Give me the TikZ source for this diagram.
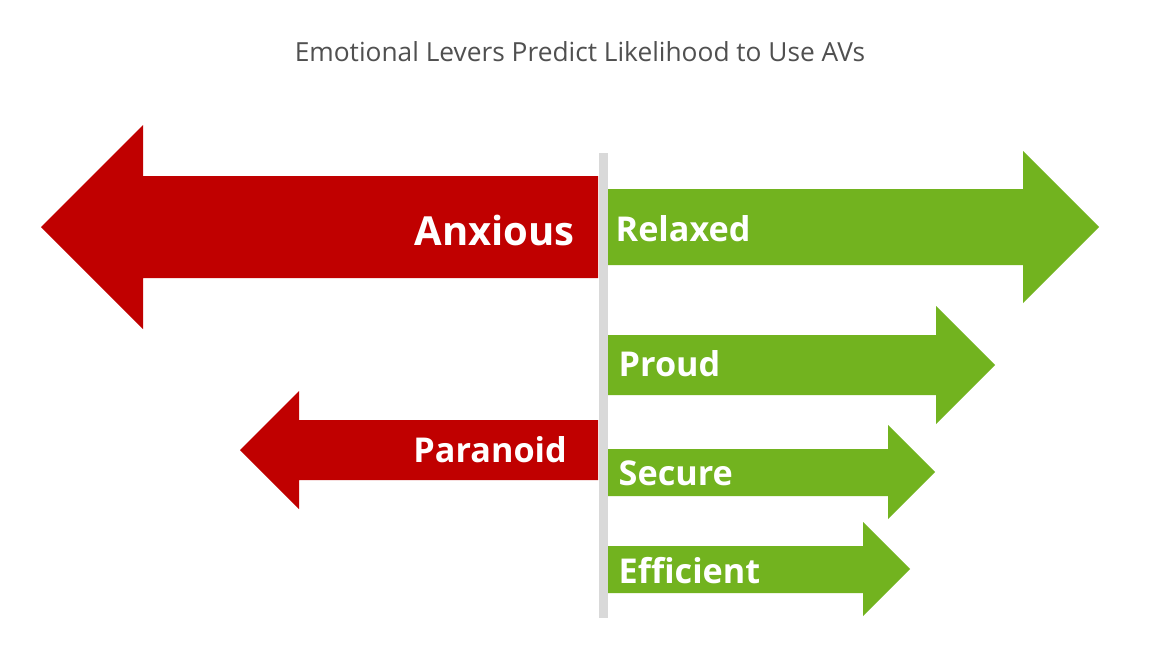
\documentclass[tikz,border=0pt]{standalone}
\usepackage{fontspec}
\setmainfont{Open Sans}
\definecolor{redarrow}{HTML}{C00000}
\definecolor{greenarrow}{HTML}{72B31F}
\definecolor{axisgray}{HTML}{D9D9D9}
\definecolor{titlegray}{HTML}{505050}
\tikzset{x=1pt,y=-1pt,
 lab/.style={text=white,font=\bfseries\fontsize{34.2}{40}\selectfont,inner sep=0pt,anchor=base west},
 labr/.style={text=white,font=\bfseries\fontsize{34.2}{40}\selectfont,inner sep=0pt,anchor=base east}}
\begin{document}
\begin{tikzpicture}
\useasboundingbox (0,0) rectangle (1149,661);
\fill[white] (0,0) rectangle (1149,661);
% left arrows
\fill[redarrow] (598,176) -- (143,176) -- (143,125) -- (41,227) -- (143,329) -- (143,278) -- (598,278) -- cycle;
\fill[redarrow] (598,420) -- (299,420) -- (299,391) -- (240,450) -- (299,509) -- (299,480) -- (598,480) -- cycle;
% right arrows
\fill[greenarrow] (608,189) -- (1023,189) -- (1023,151) -- (1099,227) -- (1023,303) -- (1023,265) -- (608,265) -- cycle;
\fill[greenarrow] (608,335) -- (936,335) -- (936,306) -- (995,365) -- (936,424) -- (936,395) -- (608,395) -- cycle;
\fill[greenarrow] (608,449) -- (888,449) -- (888,425) -- (935,472) -- (888,519) -- (888,496) -- (608,496) -- cycle;
\fill[greenarrow] (608,546) -- (863,546) -- (863,522) -- (910,569) -- (863,616) -- (863,593) -- (608,593) -- cycle;
% axis
\fill[axisgray] (598.5,153) rectangle (607.5,618);
% labels
\node[text=titlegray,font=\fontsize{26.3}{32}\selectfont,inner sep=0pt,anchor=base] (title) at (580,62) {Emotional Levers Predict Likelihood to Use AVs};
\node[labr,font=\bfseries\fontsize{40}{46}\selectfont] (anxious) at (575,245) {Anxious};
\node[lab] (relaxed) at (615.5,241) {Relaxed};
\node[lab] (proud) at (618.5,376) {Proud};
\node[labr] (paranoid) at (567,462) {Paranoid};
\node[lab] (secure) at (618.5,485) {Secure};
\node[lab] (efficient) at (618.5,583) {Efficient};
\end{tikzpicture}
\end{document}
